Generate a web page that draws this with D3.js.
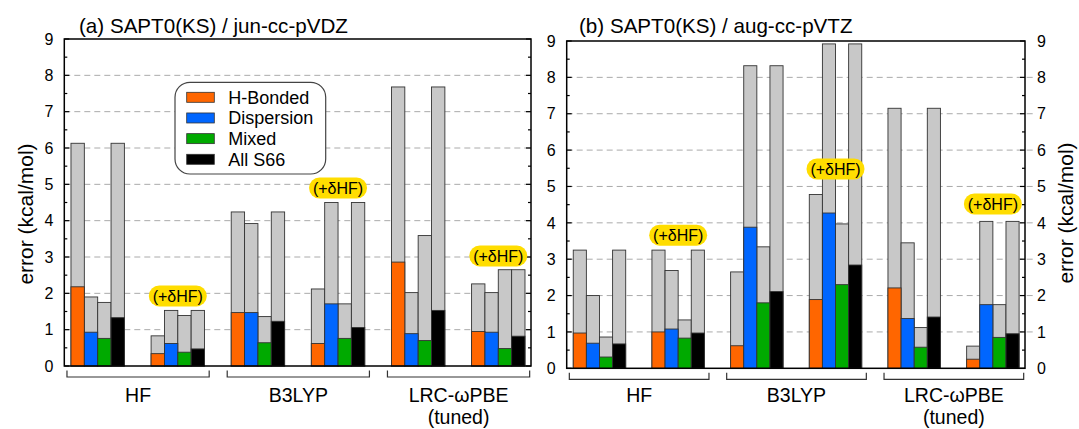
<!DOCTYPE html>
<html lang="en">
<head>
<meta charset="utf-8">
<title>SAPT0(KS) errors</title>
<script src="https://cdn.jsdelivr.net/npm/d3@7"></script>
<style>
  body { margin: 0; background: #fff; }
  svg text { font-family: "Liberation Sans", Arial, sans-serif; fill: #000; }
</style>
</head>
<body>
<div id="chart"></div>
<script>
// subsets and methods
var subsets = ["H-Bonded", "Dispersion", "Mixed", "All S66"];
var colors = ["#ff6600", "#0066ff", "#00aa00", "#000000"];
var methods = ["HF", "B3LYP", "LRC-ωPBE"];
var yTicks = [0, 1, 2, 3, 4, 5, 6, 7, 8, 9];

// each row = one block of 4 bars: HF, HF+dHF, B3LYP, B3LYP+dHF, LRC, LRC+dHF
var meanA = [[2.18, 0.93, 0.76, 1.33], [0.34, 0.62, 0.38, 0.47],
             [1.47, 1.47, 0.64, 1.23], [0.62, 1.71, 0.76, 1.06],
             [2.86, 0.89, 0.70, 1.53], [0.95, 0.93, 0.48, 0.82]];
var maxA  = [[6.13, 1.90, 1.75, 6.13], [0.83, 1.53, 1.39, 1.53],
             [4.24, 3.92, 1.36, 4.24], [2.12, 4.50, 1.71, 4.50],
             [7.68, 2.02, 3.59, 7.68], [2.26, 2.02, 2.65, 2.65]];
var meanB = [[0.97, 0.69, 0.31, 0.67], [1.00, 1.08, 0.83, 0.97],
             [0.62, 3.88, 1.80, 2.11], [1.89, 4.27, 2.30, 2.84],
             [2.21, 1.37, 0.58, 1.41], [0.25, 1.75, 0.85, 0.95]];
var maxB  = [[3.25, 2.00, 0.86, 3.25], [3.25, 2.69, 1.33, 3.25],
             [2.65, 8.32, 3.34, 8.32], [4.78, 8.92, 3.97, 8.92],
             [7.15, 3.45, 1.12, 7.15], [0.61, 4.04, 1.75, 4.04]];
// height (kcal/mol) of the (+dHF) tag above each method
var tagA = [1.93, 4.90, 3.03];
var tagB = [3.66, 5.48, 4.52];

var W = 1079, H = 429;
var svg = d3.select("#chart").append("svg").attr("width", W).attr("height", H);

function panel(opt) {
    var x = d3.scaleLinear().domain([-0.5, 34.45]).range([opt.left, opt.right]);
    var y = d3.scaleLinear().domain([0, 9]).range([opt.bottom, opt.top]);
    var g = svg.append("g");

    // dashed grid
    g.selectAll(".grid").data(d3.range(1, 9)).enter().append("line")
        .attr("x1", opt.left).attr("x2", opt.right + (opt.rightLabels ? 10 : 0))
        .attr("y1", function(d) { return y(d); }).attr("y2", function(d) { return y(d); })
        .attr("stroke", "#aaa").attr("stroke-width", 1).attr("stroke-dasharray", "6,4");

    // bars
    var bars = [];
    opt.mean.forEach(function(row, b) {
        row.forEach(function(v, s) {
            bars.push({slot: b * 6 + s, mean: v, max: opt.max[b][s], s: s});
        });
    });
    var bw = x(1) - x(0);
    g.selectAll(".maxbar").data(bars).enter().append("rect")
        .attr("x", function(d) { return x(d.slot); })
        .attr("width", bw)
        .attr("y", function(d) { return y(d.max); })
        .attr("height", function(d) { return y(0) - y(d.max); })
        .attr("fill", "#c8c8c8").attr("stroke", "#333").attr("stroke-width", 0.9);
    g.selectAll(".meanbar").data(bars).enter().append("rect")
        .attr("x", function(d) { return x(d.slot); })
        .attr("width", bw)
        .attr("y", function(d) { return y(d.mean); })
        .attr("height", function(d) { return y(0) - y(d.mean); })
        .attr("fill", function(d) { return colors[d.s]; })
        .attr("stroke", "#333").attr("stroke-width", 0.9);

    // frame
    g.append("rect").attr("x", opt.left).attr("y", opt.top)
        .attr("width", opt.right - opt.left).attr("height", opt.bottom - opt.top)
        .attr("fill", "none").attr("stroke", "#000").attr("stroke-width", 1.5);

    // ticks, inward on both sides
    var ticks = d3.range(0, 9.01, 0.5);
    [opt.left, opt.right].forEach(function(px, i) {
        var dir = i === 0 ? 1 : -1;
        g.selectAll(null).data(ticks).enter().append("line")
            .attr("x1", px)
            .attr("x2", function(d) { return px + dir * (d % 1 === 0 ? 5 : 3); })
            .attr("y1", function(d) { return y(d); }).attr("y2", function(d) { return y(d); })
            .attr("stroke", "#000").attr("stroke-width", 1.2);
    });

    // tick labels
    g.selectAll(null).data(yTicks).enter().append("text")
        .attr("x", opt.left - 11).attr("y", function(d) { return y(d) + 5.7; })
        .attr("text-anchor", "end").style("font-size", "16px").text(function(d) { return d; });
    if (opt.rightLabels) {
        g.selectAll(null).data(yTicks).enter().append("text")
            .attr("x", opt.right + 12).attr("y", function(d) { return y(d) + 5.7; })
            .attr("text-anchor", "start").style("font-size", "16px").text(function(d) { return d; });
    }

    // title
    g.append("text").attr("x", opt.titleX).attr("y", 33)
        .style("font-size", "20.6px").text(opt.title);

    // (+dHF) tags
    opt.tags.forEach(function(v, m) {
        var cx = x(m * 12 + 6 + 2);
        var t = g.append("g").attr("transform", "translate(" + cx + "," + y(v) + ")");
        t.append("rect").attr("x", -29).attr("y", -10.5).attr("width", 58).attr("height", 21)
            .attr("rx", 10.5).attr("fill", "#ffdd00");
        t.append("text").attr("text-anchor", "middle").attr("y", 5.8)
            .style("font-size", "16px").text("(+δHF)");
    });

    // method brackets
    methods.forEach(function(name, m) {
        var x1 = x(m * 12 - 0.3), x2 = x(m * 12 + 10.35);
        var yb = opt.bottom + 11;
        g.append("path")
            .attr("d", "M" + x1 + "," + (yb - 6.5) + "V" + yb + "H" + x2 + "V" + (yb - 6.5))
            .attr("fill", "none").attr("stroke", "#333").attr("stroke-width", 1.2);
        g.append("text").attr("x", (x1 + x2) / 2).attr("y", 401.5)
            .attr("text-anchor", "middle").style("font-size", "19.5px").text(name);
        if (m === 2) {
            g.append("text").attr("x", (x1 + x2) / 2).attr("y", 423.5)
                .attr("text-anchor", "middle").style("font-size", "19.5px").text("(tuned)");
        }
    });
    return g;
}

panel({left: 64.3, right: 531, top: 39, bottom: 366, mean: meanA, max: maxA,
    tags: tagA, title: "(a) SAPT0(KS) / jun-cc-pVDZ", titleX: 79, rightLabels: false});
panel({left: 566.7, right: 1025, top: 41, bottom: 368.3, mean: meanB, max: maxB,
    tags: tagB, title: "(b) SAPT0(KS) / aug-cc-pVTZ", titleX: 579, rightLabels: true});

// axis titles
svg.append("text").attr("transform", "translate(33,214) rotate(-90)")
    .attr("text-anchor", "middle").style("font-size", "21px").text("error (kcal/mol)");
svg.append("text").attr("transform", "translate(1073,213) rotate(-90)")
    .attr("text-anchor", "middle").style("font-size", "21px").text("error (kcal/mol)");

// legend
var lg = svg.append("g").attr("transform", "translate(175,82.3)");
lg.append("rect").attr("width", 150.7).attr("height", 91.7).attr("rx", 15)
    .attr("fill", "#fff").attr("stroke", "#444").attr("stroke-width", 1.2);
subsets.forEach(function(s, i) {
    var cy = 15 + i * 20.67;
    lg.append("rect").attr("x", 11.7).attr("y", cy - 5).attr("width", 27.6).attr("height", 10)
        .attr("fill", colors[i]).attr("stroke", "#333").attr("stroke-width", 0.8);
    lg.append("text").attr("x", 53.3).attr("y", cy + 6.4).style("font-size", "18px").text(s);
});
</script>
</body>
</html>
